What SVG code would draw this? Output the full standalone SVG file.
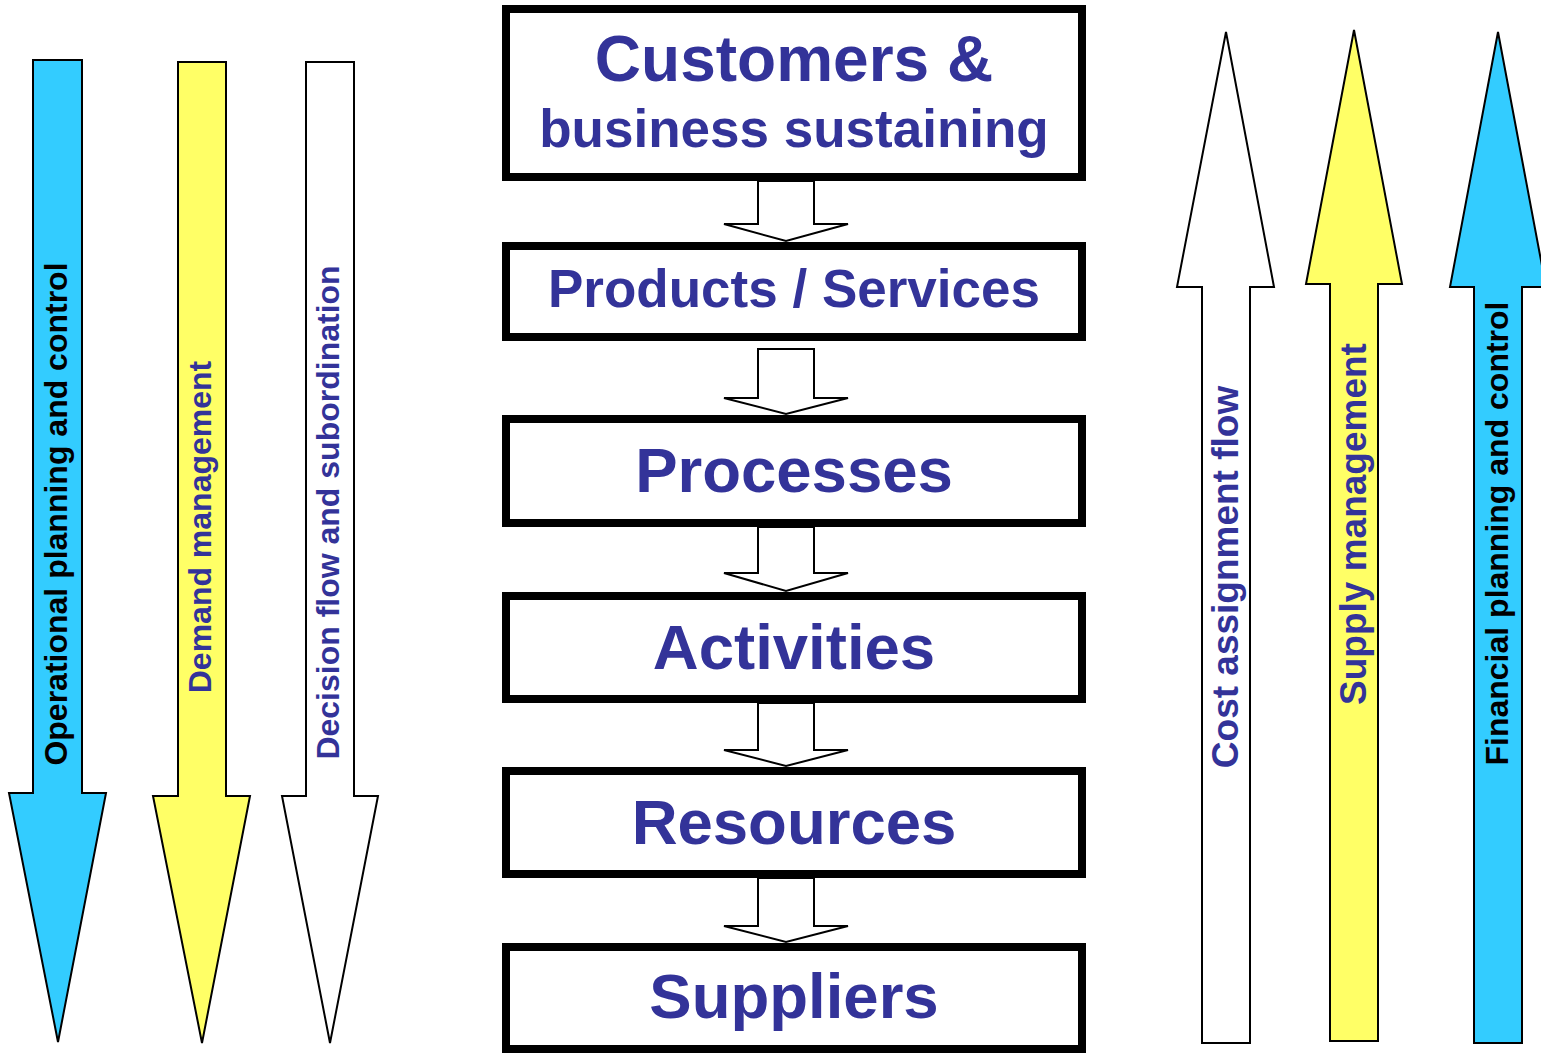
<svg xmlns="http://www.w3.org/2000/svg" width="1541" height="1053" viewBox="0 0 1541 1053">
<style>
.big{fill:none;stroke:#000;stroke-width:2;stroke-linejoin:miter}
.box{fill:#fff;stroke:#000;stroke-width:8}
.conn{fill:#fff;stroke:#000;stroke-width:2;stroke-linejoin:miter}
.t{font-family:"Liberation Sans",Arial,Helvetica,sans-serif;font-weight:bold;fill:#333399;text-anchor:middle}
.side{font-family:"Liberation Sans",Arial,Helvetica,sans-serif;font-weight:bold;text-anchor:middle;font-size:32px}
.blue{fill:#33CCFF}
.yellow{fill:#FFFF66}
.white{fill:#FFFFFF}
</style>
<rect x="0" y="0" width="1541" height="1053" fill="#fff"/>

<g id="arrow-operational">
<polygon class="big blue" points="33,60 82,60 82,793 106,793 58,1042 9,793 33,793"/>
<text class="side" fill="#000" transform="translate(67,514) rotate(-90)">Operational planning and control</text>
</g>
<g id="arrow-demand">
<polygon class="big yellow" points="178,62 226,62 226,796 250,796 202,1043 153,796 178,796"/>
<text class="side" fill="#333399" transform="translate(211,527) rotate(-90)">Demand management</text>
</g>
<g id="arrow-decision">
<polygon class="big white" points="306,62 354,62 354,796 378,796 330,1043 282,796 306,796"/>
<text class="side" fill="#333399" transform="translate(339,512.5) rotate(-90)">Decision flow and subordination</text>
</g>

<g id="arrow-cost">
<polygon class="big white" points="1226,32 1274,287 1250,287 1250,1043 1202,1043 1202,287 1177,287"/>
<text class="side" fill="#333399" style="font-size:37px" transform="translate(1238,577) rotate(-90)">Cost assignment flow</text>
</g>
<g id="arrow-supply">
<polygon class="big yellow" points="1354,30 1402,284 1378,284 1378,1041 1330,1041 1330,284 1306,284"/>
<text class="side" fill="#333399" style="font-size:37px" transform="translate(1366,524) rotate(-90)">Supply management</text>
</g>
<g id="arrow-financial">
<polygon class="big blue" points="1498,32 1546,287 1522,287 1522,1043 1474,1043 1474,287 1450,287"/>
<text class="side" fill="#000" transform="translate(1508,533.5) rotate(-90)">Financial planning and control</text>
</g>

<g id="connectors">
<polygon class="conn" points="758,181 814,181 814,224 848,224 786,241 724,224 758,224"/>
<polygon class="conn" points="758,349 814,349 814,398 848,398 786,414 724,398 758,398"/>
<polygon class="conn" points="758,527 814,527 814,573 848,573 786,591 724,573 758,573"/>
<polygon class="conn" points="758,703 814,703 814,750 848,750 786,766 724,750 758,750"/>
<polygon class="conn" points="758,878 814,878 814,926 848,926 786,942 724,926 758,926"/>
</g>

<g id="node-customers">
<rect class="box" x="506" y="9" width="576" height="168"/>
<text class="t" x="794" y="81" font-size="64">Customers &amp;</text>
<text class="t" x="794" y="147" font-size="53">business sustaining</text>
</g>
<g id="node-products">
<rect class="box" x="506" y="246" width="576" height="91"/>
<text class="t" x="794" y="307" font-size="53">Products / Services</text>
</g>
<g id="node-processes">
<rect class="box" x="506" y="419" width="576" height="104"/>
<text class="t" x="794" y="492" font-size="63.5">Processes</text>
</g>
<g id="node-activities">
<rect class="box" x="506" y="596" width="576" height="103"/>
<text class="t" x="794" y="669" font-size="63.5">Activities</text>
</g>
<g id="node-resources">
<rect class="box" x="506" y="771" width="576" height="103"/>
<text class="t" x="794" y="844" font-size="63.5">Resources</text>
</g>
<g id="node-suppliers">
<rect class="box" x="506" y="947" width="576" height="102"/>
<text class="t" x="794" y="1018" font-size="63.5">Suppliers</text>
</g>
</svg>
